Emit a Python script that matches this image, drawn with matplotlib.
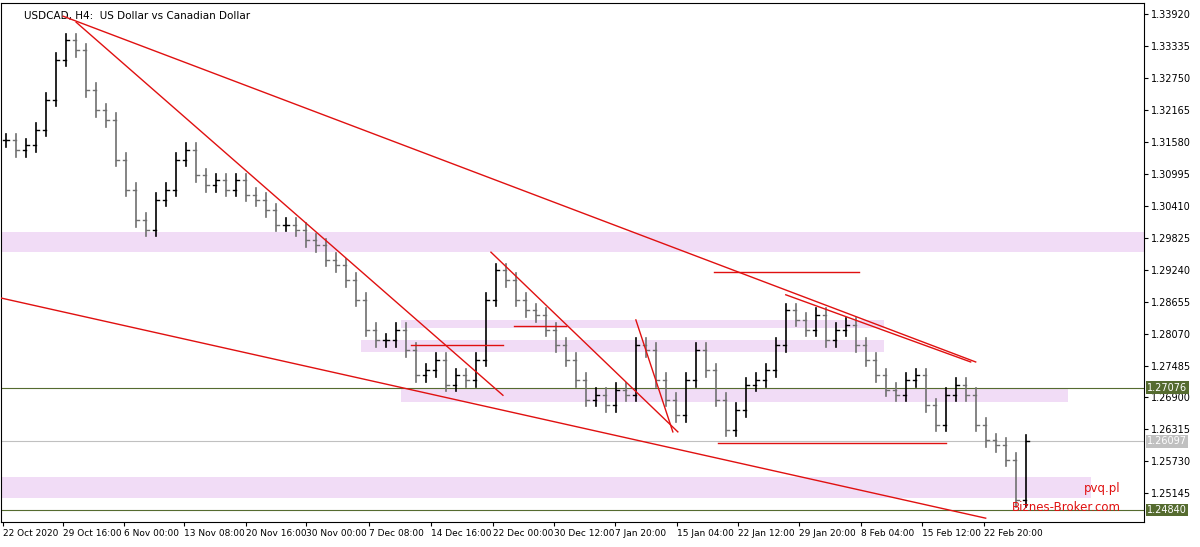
import matplotlib
matplotlib.use("Agg")
import matplotlib.pyplot as plt

closes = [1.3161,1.3143,1.3152,1.3180,1.3235,1.3308,1.3344,1.3326,1.3253,1.3216,1.3198,1.3125,1.3070,1.3015,1.2997,1.3052,1.3070,1.3125,1.3143,1.3097,1.3079,1.3088,1.3070,1.3088,1.3061,1.3052,1.3033,1.3006,1.3006,1.2997,1.2978,1.2969,1.2942,1.2932,1.2905,1.2869,1.2814,1.2795,1.2795,1.2814,1.2777,1.2731,1.2740,1.2759,1.2713,1.2731,1.2722,1.2759,1.2869,1.2923,1.2905,1.2869,1.2850,1.2841,1.2814,1.2786,1.2759,1.2722,1.2686,1.2695,1.2676,1.2704,1.2695,1.2786,1.2777,1.2722,1.2686,1.2658,1.2722,1.2777,1.2740,1.2686,1.2631,1.2667,1.2713,1.2722,1.2740,1.2786,1.2850,1.2832,1.2814,1.2841,1.2795,1.2814,1.2823,1.2786,1.2759,1.2731,1.2704,1.2695,1.2722,1.2731,1.2676,1.2640,1.2695,1.2713,1.2695,1.2640,1.2612,1.2603,1.2576,1.2502,1.2610]
wick = 0.0012
tick_pos = [-0.3,5.7,11.8,17.8,24,30,36.3,42.5,48.7,54.8,60.9,67.1,73.2,79.3,85.5,91.6,97.8]
tick_labels = ["22 Oct 2020","29 Oct 16:00","6 Nov 00:00","13 Nov 08:00","20 Nov 16:00","30 Nov 00:00","7 Dec 08:00","14 Dec 16:00","22 Dec 00:00","30 Dec 12:00","7 Jan 20:00","15 Jan 04:00","22 Jan 12:00","29 Jan 20:00","8 Feb 04:00","15 Feb 12:00","22 Feb 20:00"]
yticks = [1.33920,1.33335,1.32750,1.32165,1.31580,1.30995,1.30410,1.29825,1.29240,1.28655,1.28070,1.27485,1.26900,1.26315,1.25730,1.25145]
trend = [((5.7,1.3388),(97,1.2755)),((-0.5,1.2872),(98,1.2469)),((7,1.3377),(49.7,1.2694)),
         ((48.5,1.2956),(67.2,1.2627)),((63,1.2832),(66.7,1.2627)),((78,1.2878),(96.5,1.2755))]
hlines = [(70.8,85.3,1.2920),(40.5,49.7,1.2786),(50.8,56,1.2821),(71.2,94,1.2607)]
bands = [(-0.5,113.8,1.2956,1.2993),(39.5,87.8,1.2817,1.2832),(35.5,87.8,1.2773,1.2795),(39.5,106.2,1.2681,1.2707),(-0.5,108.5,1.2506,1.2544)]

fig = plt.figure(figsize=(12,5.47), dpi=100)
ax = fig.add_axes([0.001,0.045,0.952,0.95])
ax.set_xlim(-0.5,113.8)
ax.set_ylim(1.24613,1.34127)
for x0,x1,a,b in bands:
    ax.fill_between([x0,x1],a,b,color='#f1dcf6',lw=0,zorder=1)
prev = closes[0]
for i,c in enumerate(closes):
    o = prev
    hi = max(o,c)+wick; lo = min(o,c)-wick
    col = '#000000' if c>=o else '#707070'
    ax.plot([i,i],[lo,hi],color=col,lw=1.2,zorder=3)
    ax.plot([i-0.3,i],[o,o],color=col,lw=1,zorder=3)
    ax.plot([i,i+0.3],[c,c],color=col,lw=1,zorder=3)
    prev = c
for (a,b) in trend:
    ax.plot([a[0],b[0]],[a[1],b[1]],color='#e01010',lw=1,zorder=4)
for x0,x1,y in hlines:
    ax.plot([x0,x1],[y,y],color='#e01010',lw=1,zorder=4)
ax.axhline(1.27076,color='#556b2f',lw=0.8,zorder=2)
ax.axhline(1.26097,color='#c0c0c0',lw=0.8,zorder=2)
ax.axhline(1.24840,color='#556b2f',lw=0.8,zorder=2)
ax.yaxis.tick_right()
ax.set_yticks(yticks)
ax.set_yticklabels([f"{v:.5f}" for v in yticks],fontsize=7)
ax.set_xticks(tick_pos)
ax.set_xticklabels(tick_labels,fontsize=6.5,ha='left')
ax.tick_params(length=3,pad=2)
for v,fc,tc in [(1.27076,'#556b2f','white'),(1.26097,'#c0c0c0','white'),(1.24840,'#556b2f','white')]:
    ax.text(1.003,v,f"{v:.5f}",transform=ax.get_yaxis_transform(),fontsize=7,color=tc,va='center',
            bbox=dict(facecolor=fc,edgecolor='none',pad=1))
ax.text(0.02,0.985,"USDCAD, H4:  US Dollar vs Canadian Dollar",transform=ax.transAxes,fontsize=7.5,va='top')
ax.text(111.5,1.2517,"pvq.pl",color='#e01010',fontsize=8.5,ha='right')
ax.text(111.5,1.2482,"Biznes-Broker.com",color='#e01010',fontsize=8.5,ha='right')
fig.savefig("out.png")
